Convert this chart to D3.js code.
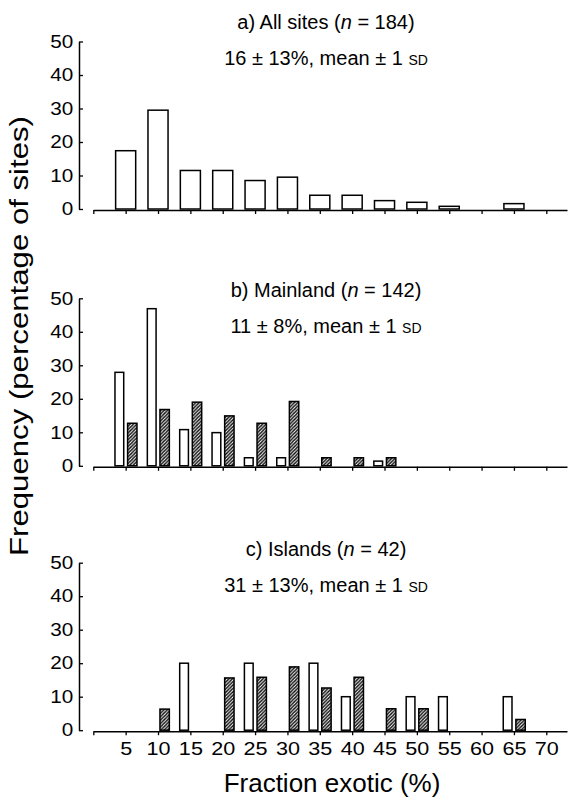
<!DOCTYPE html>
<html>
<head>
<meta charset="utf-8">
<script src="https://cdn.jsdelivr.net/npm/d3@7"></script>
<style>
  body { margin: 0; background: #fff; }
  svg { display: block; font-family: "Liberation Sans", Arial, Helvetica, sans-serif; }
</style>
</head>
<body>
<div class="vis-div"></div>
<script>
// bins are the centre of each 5% class of "fraction exotic"
const bins = [5, 10, 15, 20, 25, 30, 35, 40, 45, 50, 55, 60, 65, 70];
const xTicks = [0, 5, 10, 15, 20, 25, 30, 35, 40, 45, 50, 55, 60, 65, 70];
const yTicks = [0, 10, 20, 30, 40, 50];

const allSites        = [17.4, 29.5, 11.5, 11.5, 8.5, 9.5, 4.1, 4.1, 2.5, 2.0, 0.8, 0, 1.6, 0];
const mainlandOpen    = [27.9, 46.9, 10.8, 9.9, 2.4, 2.4, 0, 0, 1.4, 0, 0, 0, 0, 0];
const mainlandHatched = [12.7, 16.8, 19.0, 14.9, 12.7, 19.2, 2.4, 2.4, 2.4, 0, 0, 0, 0, 0];
const islandsOpen     = [0, 0, 20, 0, 20, 0, 20, 10, 0, 10, 10, 0, 10, 0];
const islandsHatched  = [0, 6.3, 0, 15.6, 15.8, 18.9, 12.6, 15.8, 6.4, 6.4, 0, 0, 3.2, 0];

const panelNames = ['a) All sites (', 'b) Mainland (', 'c) Islands ('];
const panelN = ['184', '142', '42'];
const panelStats = ['16 ± 13%', '11 ± 8%', '31 ± 13%'];

const width = 576, height = 800;
const panelTop = [41.5, 298.3, 562.7];
const panelH = 167.5;
const titleY = [29, 297, 556];

const svg = d3.select('.vis-div').append('svg')
    .attr('width', width)
    .attr('height', height);

const defs = svg.append('defs');
const hatch = defs.append('pattern')
    .attr('id', 'hatch')
    .attr('patternUnits', 'userSpaceOnUse')
    .attr('width', 3.4)
    .attr('height', 3.4);
hatch.append('rect').attr('width', 3.4).attr('height', 3.4).attr('fill', '#fff');
hatch.append('path')
    .attr('d', 'M-1,1 l2,-2 M0,3.4 l3.4,-3.4 M2.4,4.4 l2,-2')
    .attr('stroke', '#111')
    .attr('stroke-width', 1.4);

const x = d3.scaleLinear()
    .domain([0, 73.2])
    .range([93.3, 567]);
const unit = x(1) - x(0);

const panels = [
    { open: allSites, hatched: null },
    { open: mainlandOpen, hatched: mainlandHatched },
    { open: islandsOpen, hatched: islandsHatched }
];

panels.forEach((p, i) => {
    const y = d3.scaleLinear()
        .domain([0, 50])
        .range([panelTop[i] + panelH, panelTop[i]]);

    const g = svg.append('g');

    // bars
    if (p.hatched === null) {
        g.selectAll('rect.open')
            .data(bins.map((b, j) => ({ b, v: p.open[j] })).filter(d => d.v > 0))
            .join('rect')
            .attr('x', d => x(d.b - 1.55))
            .attr('width', unit * 3.1)
            .attr('y', d => y(d.v))
            .attr('height', d => y(0) - y(d.v))
            .attr('fill', '#fff')
            .attr('stroke', '#000')
            .attr('stroke-width', 1.5);
    } else {
        g.selectAll('rect.open')
            .data(bins.map((b, j) => ({ b, v: p.open[j] })).filter(d => d.v > 0))
            .join('rect')
            .attr('x', d => x(d.b - 1.65))
            .attr('width', unit * 1.35)
            .attr('y', d => y(d.v))
            .attr('height', d => y(0) - y(d.v))
            .attr('fill', '#fff')
            .attr('stroke', '#000')
            .attr('stroke-width', 1.5);

        g.selectAll('rect.hatched')
            .data(bins.map((b, j) => ({ b, v: p.hatched[j] })).filter(d => d.v > 0))
            .join('rect')
            .attr('class', 'hatched')
            .attr('x', d => x(d.b + 0.3))
            .attr('width', unit * 1.45)
            .attr('y', d => y(d.v))
            .attr('height', d => y(0) - y(d.v))
            .attr('fill', 'url(#hatch)')
            .attr('stroke', '#000')
            .attr('stroke-width', 1.5);
    }

    // x axis
    const isLast = i === panels.length - 1;
    const xAxis = g.append('g')
        .attr('transform', `translate(0,${y(0) + 1})`)
        .call(d3.axisBottom(x)
            .tickValues(xTicks)
            .tickSize(4)
            .tickSizeOuter(0)
            .tickPadding(7)
            .tickFormat(d => (isLast && d > 0) ? d : ''));
    xAxis.select('.domain').attr('stroke-width', 1.5);
    xAxis.selectAll('.tick line').attr('stroke-width', 1.3);
    xAxis.selectAll('.tick text')
        .attr('font-size', 18)
        .attr('font-family', '"Liberation Sans", Arial, sans-serif')
        .attr('fill', '#000')
        .attr('transform', 'scale(1.2,1)');

    // y axis, ticks point inward
    const yAxis = g.append('g')
        .attr('transform', 'translate(79,0)')
        .call(d3.axisLeft(y)
            .tickValues(yTicks)
            .tickSize(-4)
            .tickSizeOuter(0)
            .tickPadding(5));
    yAxis.select('.domain').attr('stroke-width', 1.5);
    yAxis.selectAll('.tick line').attr('stroke-width', 1.3);
    yAxis.selectAll('.tick text')
        .attr('font-size', 18)
        .attr('font-family', '"Liberation Sans", Arial, sans-serif')
        .attr('fill', '#000')
        .attr('transform', 'scale(1.15,1)');

    // panel titles
    const t1 = svg.append('text')
        .attr('x', 326)
        .attr('y', titleY[i])
        .attr('text-anchor', 'middle')
        .attr('font-size', 20);
    t1.append('tspan').text(panelNames[i]);
    t1.append('tspan').attr('font-style', 'italic').text('n');
    t1.append('tspan').text(' = ' + panelN[i] + ')');

    const t2 = svg.append('text')
        .attr('x', 326)
        .attr('y', titleY[i] + 36)
        .attr('text-anchor', 'middle')
        .attr('font-size', 20);
    t2.append('tspan').text(panelStats[i] + ', mean ± 1 ');
    t2.append('tspan').attr('font-size', 14).text('SD');
});

// axis titles
svg.append('text')
    .attr('x', 332)
    .attr('y', 792)
    .attr('text-anchor', 'middle')
    .attr('font-size', 26)
    .text('Fraction exotic (%)');

svg.append('text')
    .attr('transform', 'translate(28,336) rotate(-90)')
    .attr('text-anchor', 'middle')
    .attr('font-size', 25)
    .attr('textLength', 440)
    .attr('lengthAdjust', 'spacingAndGlyphs')
    .text('Frequency (percentage of sites)');
</script>
</body>
</html>
